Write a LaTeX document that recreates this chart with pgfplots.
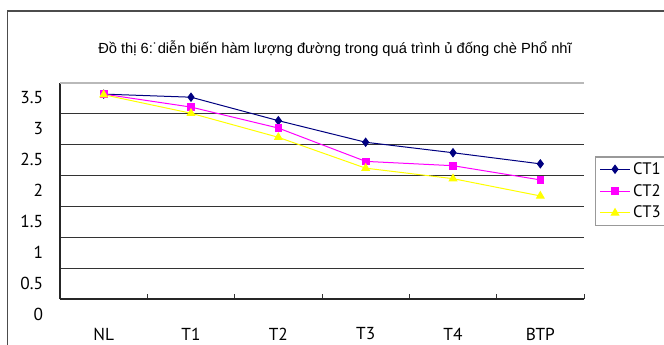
\documentclass[border=0pt]{standalone}
\usepackage{pgfplots}
\pgfplotsset{compat=1.18}
\usepackage{fontspec}
\setmainfont{Liberation Sans}
\newfontfamily\tickfont{PT Sans}
\definecolor{ctnavy}{RGB}{0,0,128}
\definecolor{ctmag}{RGB}{255,0,255}
\definecolor{ctyel}{RGB}{255,255,0}
\begin{document}
\begin{tikzpicture}
\useasboundingbox (0,0) rectangle (498pt,-258.75pt);
\clip (0,0) rectangle (498pt,-258.75pt);
% chart frame
\draw[black!70, line width=0.9pt] (5.5pt,-8.25pt) rectangle (530pt,-290pt);
% title
\node[font=\fontsize{11}{13}\selectfont] at (251.25pt,-36.75pt)
  {Đồ thị 6:˙diễn biến hàm lượng đường trong quá trình ủ đống chè Phổ nhĩ};
\begin{axis}[
  at={(45pt,-224.25pt)}, anchor=south west,
  scale only axis, width=393pt, height=162pt,
  xmin=-0.5, xmax=5.5, ymin=0, ymax=3.5,
  axis lines*=left,
  axis line style={black!85, line width=0.8pt},
  tick align=inside,
  xtick={0,...,5},
  xticklabels={NL,T1,T2,T3,T4,BTP},
  minor xtick={0.5,1.5,...,5.5},
  major x tick style={draw=none},
  minor x tick style={black!80, line width=0.6pt},
  minor tick length=4pt,
  ytick={0,0.5,...,3},
  ytick style={draw=none},
  extra y ticks={3.5},
  extra y tick style={major grid style={gray!55, line width=0.9pt}, ytick style={draw=none}},
  ymajorgrids,
  major grid style={black!80, line width=0.8pt},
  /pgf/number format/assume math mode=true,
  xticklabel style={font=\tickfont\fontsize{13}{15}\selectfont, anchor=center, inner sep=0pt, yshift=-26.25pt},
  yticklabel style={font=\tickfont\fontsize{13}{15}\selectfont, anchor=east, inner sep=0pt, xshift=-12.5pt, yshift=-11.25pt},
  legend style={at={(1.021,0.66)}, anchor=north west, draw=gray!80, line width=0.8pt,
    font=\tickfont\fontsize{12.5}{14}\selectfont, row sep=2pt, inner xsep=3pt, inner ysep=2pt},
  legend cell align=left,
  legend image code/.code={\draw[mark repeat=2,mark phase=2] plot coordinates {(0pt,0pt) (11.25pt,0pt) (22.5pt,0pt)};},
]
\addplot[ctnavy, line width=0.75pt, mark=diamond*, mark size=3pt, mark options={solid, fill=ctnavy}]
  coordinates {(0,3.32) (1,3.27) (2,2.89) (3,2.54) (4,2.37) (5,2.19)};
\addlegendentry{CT1}
\addplot[ctmag, line width=0.75pt, mark=square*, mark size=2.5pt, mark options={solid, fill=ctmag}]
  coordinates {(0,3.32) (1,3.11) (2,2.77) (3,2.23) (4,2.16) (5,1.93)};
\addlegendentry{CT2}
\addplot[ctyel, line width=0.75pt, mark=triangle*, mark size=3.2pt, mark options={solid, fill=ctyel}]
  coordinates {(0,3.31) (1,3.01) (2,2.62) (3,2.12) (4,1.95) (5,1.67)};
\addlegendentry{CT3}
\end{axis}
\end{tikzpicture}
\end{document}
